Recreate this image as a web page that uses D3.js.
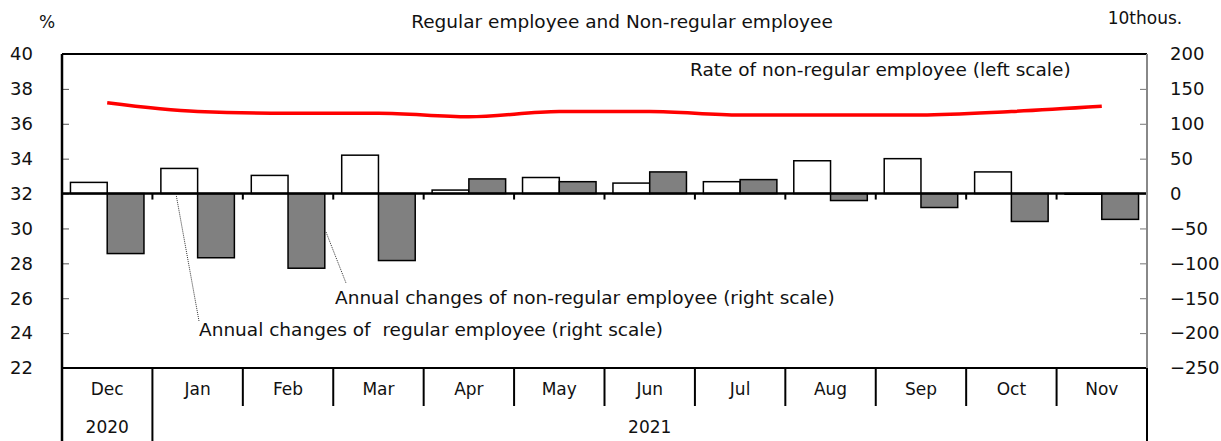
<!DOCTYPE html>
<html>
<head>
<meta charset="utf-8">
<script src="https://cdn.jsdelivr.net/npm/d3@7"></script>
<style>
  body { margin: 0; background: #fff; }
  text { font-family: "DejaVu Sans", sans-serif; fill: #111; }
</style>
</head>
<body>
<svg id="chart" width="1221" height="441"></svg>
<script>
const months = ['Dec','Jan','Feb','Mar','Apr','May','Jun','Jul','Aug','Sep','Oct','Nov'];
const years = [{label: '2020', from: 0, to: 1}, {label: '2021', from: 1, to: 12}];
const regularChange = [16, 36, 26, 55, 5, 23, 15, 17, 47, 50, 31, -1];
const nonRegularChange = [-86, -92, -107, -96, 21, 17, 31, 20, -10, -20, -40, -37];
const nonRegularRate = [37.2, 36.7, 36.6, 36.6, 36.4, 36.7, 36.7, 36.5, 36.5, 36.5, 36.7, 37.0];
const leftTicks = [22, 24, 26, 28, 30, 32, 34, 36, 38, 40];
const rightTicks = [-250, -200, -150, -100, -50, 0, 50, 100, 150, 200];

const svg = d3.select('#chart');
const x0 = 62, x1 = 1147, yTop = 54, yBot = 368;

const x = d3.scaleBand().domain(d3.range(months.length)).range([x0, x1]);
const xInner = d3.scaleBand().domain(['reg', 'non']).range([0, x.bandwidth()]).paddingOuter(0.23);
const yLeft = d3.scaleLinear().domain([22, 40]).range([yBot, yTop]);
const yRight = d3.scaleLinear().domain([-250, 200]).range([yBot, yTop]);

// left axis ticks (inside the plot)
svg.append('g')
    .attr('transform', `translate(${x0},0)`)
    .call(d3.axisRight(yLeft).tickValues(leftTicks).tickSize(7).tickFormat(''))
    .call(g => g.select('.domain').remove())
    .selectAll('line').attr('stroke', '#555');
svg.selectAll('.lt')
    .data(leftTicks)
    .enter().append('text')
    .attr('x', 33).attr('y', d => yLeft(d))
    .attr('dy', '0.35em').attr('text-anchor', 'end')
    .style('font-size', '18px')
    .text(d => d);

// right axis
svg.append('g')
    .attr('transform', `translate(${x1},0)`)
    .call(d3.axisLeft(yRight).tickValues(rightTicks).tickSize(7).tickFormat(''))
    .call(g => g.select('.domain').remove())
    .selectAll('line').attr('stroke', '#777');
svg.selectAll('.rt')
    .data(rightTicks)
    .enter().append('text')
    .attr('x', 1170).attr('y', d => yRight(d))
    .attr('dy', '0.35em').attr('text-anchor', 'start')
    .style('font-size', '18px')
    .text(d => d3.format('d')(d));

// bars
const bars = svg.append('g').attr('stroke', '#000').attr('stroke-width', 1.5);
bars.selectAll('.reg')
    .data(regularChange)
    .enter().append('rect')
    .attr('x', (d, i) => x(i) + xInner('reg'))
    .attr('width', xInner.bandwidth())
    .attr('y', d => yRight(Math.max(0, d)))
    .attr('height', d => Math.abs(yRight(d) - yRight(0)))
    .attr('fill', '#fff');
bars.selectAll('.non')
    .data(nonRegularChange)
    .enter().append('rect')
    .attr('x', (d, i) => x(i) + xInner('non'))
    .attr('width', xInner.bandwidth())
    .attr('y', d => yRight(Math.max(0, d)))
    .attr('height', d => Math.abs(yRight(d) - yRight(0)))
    .attr('fill', '#808080');

// zero line with small category ticks
svg.append('line')
    .attr('x1', x0).attr('x2', x1)
    .attr('y1', yRight(0)).attr('y2', yRight(0))
    .attr('stroke', '#000').attr('stroke-width', 2.5);
svg.selectAll('.zt')
    .data(d3.range(1, months.length))
    .enter().append('line')
    .attr('x1', i => x(i)).attr('x2', i => x(i))
    .attr('y1', yRight(0)).attr('y2', yRight(0) + 6)
    .attr('stroke', '#000').attr('stroke-width', 2);

// rate line
const line = d3.line()
    .x((d, i) => x(i) + x.bandwidth() / 2)
    .y(d => yLeft(d))
    .curve(d3.curveMonotoneX);
svg.append('path')
    .datum(nonRegularRate)
    .attr('d', line)
    .attr('fill', 'none')
    .attr('stroke', '#ff0000')
    .attr('stroke-width', 3.5);

// frame
svg.append('line').attr('x1', x0).attr('x2', x1).attr('y1', yTop).attr('y2', yTop)
    .attr('stroke', '#000').attr('stroke-width', 2);
svg.append('line').attr('x1', x0).attr('x2', x1).attr('y1', yBot).attr('y2', yBot)
    .attr('stroke', '#000').attr('stroke-width', 2);
svg.append('line').attr('x1', x0).attr('x2', x0).attr('y1', yTop).attr('y2', 441)
    .attr('stroke', '#000').attr('stroke-width', 2.5);
svg.append('line').attr('x1', x1).attr('x2', x1).attr('y1', yTop).attr('y2', yBot)
    .attr('stroke', '#888').attr('stroke-width', 2);
svg.append('line').attr('x1', x1).attr('x2', x1).attr('y1', yBot).attr('y2', 441)
    .attr('stroke', '#000').attr('stroke-width', 2);

// category axis below plot
svg.selectAll('.mt')
    .data(d3.range(1, months.length))
    .enter().append('line')
    .attr('x1', i => x(i)).attr('x2', i => x(i))
    .attr('y1', yBot).attr('y2', i => years.some(y => y.from === i) ? 441 : 406)
    .attr('stroke', '#000').attr('stroke-width', 2);
svg.selectAll('.ml')
    .data(months)
    .enter().append('text')
    .attr('x', (d, i) => x(i) + x.bandwidth() / 2)
    .attr('y', 389).attr('dy', '0.35em')
    .attr('text-anchor', 'middle')
    .style('font-size', '17px')
    .text(d => d);
svg.selectAll('.yl')
    .data(years)
    .enter().append('text')
    .attr('x', d => (x(d.from) + (d.to < months.length ? x(d.to) : x1)) / 2)
    .attr('y', 427).attr('dy', '0.35em')
    .attr('text-anchor', 'middle')
    .style('font-size', '17px')
    .text(d => d.label);

// titles and units
svg.append('text').attr('x', 47).attr('y', 22).attr('dy', '0.35em')
    .attr('text-anchor', 'middle').style('font-size', '17px').text('%');
svg.append('text').attr('x', 1145).attr('y', 18).attr('dy', '0.35em')
    .attr('text-anchor', 'middle').style('font-size', '17px').text('10thous.');
svg.append('text').attr('x', 622).attr('y', 22).attr('dy', '0.35em')
    .attr('text-anchor', 'middle').style('font-size', '18.5px')
    .text('Regular employee and Non-regular employee');

// annotations
svg.append('text').attr('x', 690).attr('y', 70).attr('dy', '0.35em')
    .style('font-size', '18.5px').text('Rate of non-regular employee (left scale)');
svg.append('text').attr('x', 335).attr('y', 298).attr('dy', '0.35em')
    .style('font-size', '18.5px').text('Annual changes of non-regular employee (right scale)');
svg.append('text').attr('x', 199).attr('y', 330).attr('dy', '0.35em')
    .style('font-size', '18.5px').style('white-space', 'pre')
    .text('Annual changes of  regular employee (right scale)');
svg.append('line').attr('x1', 176).attr('y1', 194).attr('x2', 199).attr('y2', 321)
    .attr('stroke', '#333').attr('stroke-width', 1).attr('stroke-dasharray', '1,1');
svg.append('line').attr('x1', 326).attr('y1', 232).attr('x2', 346).attr('y2', 283)
    .attr('stroke', '#333').attr('stroke-width', 1).attr('stroke-dasharray', '1,1');
</script>
</body>
</html>
